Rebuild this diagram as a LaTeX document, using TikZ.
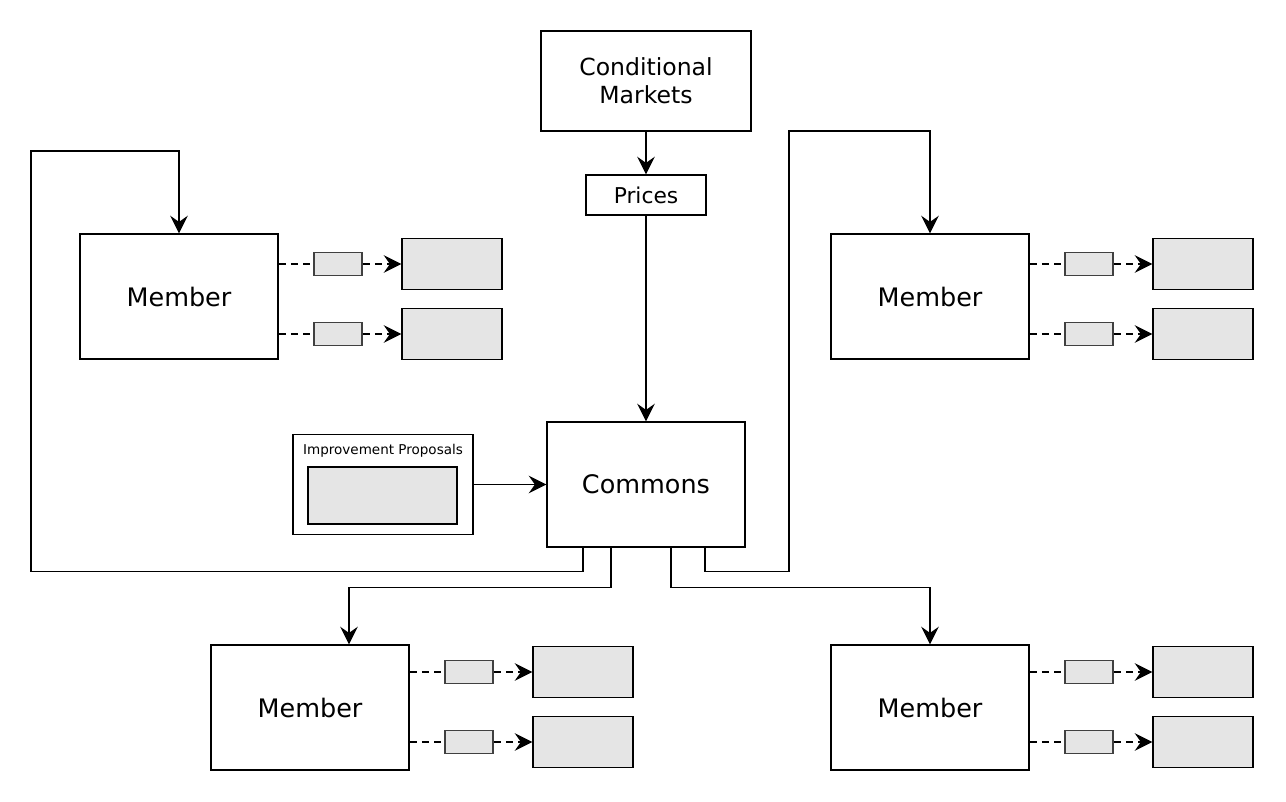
\documentclass[tikz,border=0pt]{standalone}
\usepackage{fontspec}
\setmainfont{DejaVu Sans}
\usetikzlibrary{arrows.meta}

\begin{document}
\begin{tikzpicture}[x=0.02cm, y=-0.02cm, line width=0.8pt,
        member/.style={rectangle,draw,minimum width=3.96cm,minimum height=2.5cm,font=\fontsize{14.5}{17}\selectfont},
        tok/.style={rectangle,draw=black!75,fill=black!10,minimum width=0.96cm,minimum height=0.47cm},
        slot/.style={rectangle,draw,fill=black!10,minimum width=2cm,minimum height=1.02cm},
        flow/.style={-{Stealth[length=10pt,width=10pt,inset=3.5pt]}},
        pay/.style={dash pattern=on 4pt off 3pt}]
            \useasboundingbox (0,0) rectangle (1286,802);

            \node[rectangle,draw,minimum width=4.2cm,minimum height=2cm,align=center,font=\fontsize{13.4}{15.9}\selectfont] (mkt) at (646,81) {Conditional\\Markets};
            \node[rectangle,draw,minimum width=2.4cm,minimum height=0.8cm,font=\fontsize{12.4}{15}\selectfont] (prices) at (646,195) {Prices};
            \node[member] (commons) at (646,484.5) {Commons};

            \node[rectangle,draw,minimum width=3.6cm,minimum height=2cm] (ip) at (383,484.5) {};
            \node[font=\fontsize{7.7}{9}\selectfont] (iplabel) at (383,451) {Improvement Proposals};
            \node[slot,minimum width=2.98cm,minimum height=1.14cm] (ipbox) at (382.5,495.5) {};

            \node[member] (m1) at (179,296.5) {Member};
            \node[member] (m2) at (930,296.5) {Member};
            \node[member] (m3) at (310,707.5) {Member};
            \node[member] (m4) at (930,707.5) {Member};

            \coordinate (far left) at (31,151);
            \coordinate (far right) at (789,131);

            % payouts of each member
            \foreach \m/\x/\ya/\yb in {m1/338/264/334, m2/1089/264/334, m3/469/672/742, m4/1089/672/742} {
                \node[tok] (\m-ta) at (\x,\ya) {};
                \node[tok] (\m-tb) at (\x,\yb) {};
                \node[slot] (\m-sa) at (\x+114,\ya) {};
                \node[slot] (\m-sb) at (\x+114,\yb) {};
                \draw[pay] (\m.east |- \m-ta.west) -- (\m-ta.west);
                \draw[pay] (\m.east |- \m-tb.west) -- (\m-tb.west);
                \draw[pay,flow] (\m-ta.east) -- (\m-sa.west);
                \draw[pay,flow] (\m-tb.east) -- (\m-sb.west);
            }

            \draw[flow] (mkt) -- (prices);
            \draw[flow] (prices) -- (commons);
            \draw[flow] (ip) -- (commons);

            \draw[flow] (commons.south) ++(-63,0) -- ++(0,24) -| (far left) -| (m1.north);
            \draw[flow] (commons.south) ++(-35,0) -- ++(0,40) -| ([xshift=0.78cm]m3.north);
            \draw[flow] (commons.south) ++(25,0) -- ++(0,40) -| (m4.north);
            \draw[flow] (commons.south) ++(59,0) -- ++(0,24) -| (far right) -| (m2.north);
\end{tikzpicture}
\end{document}
